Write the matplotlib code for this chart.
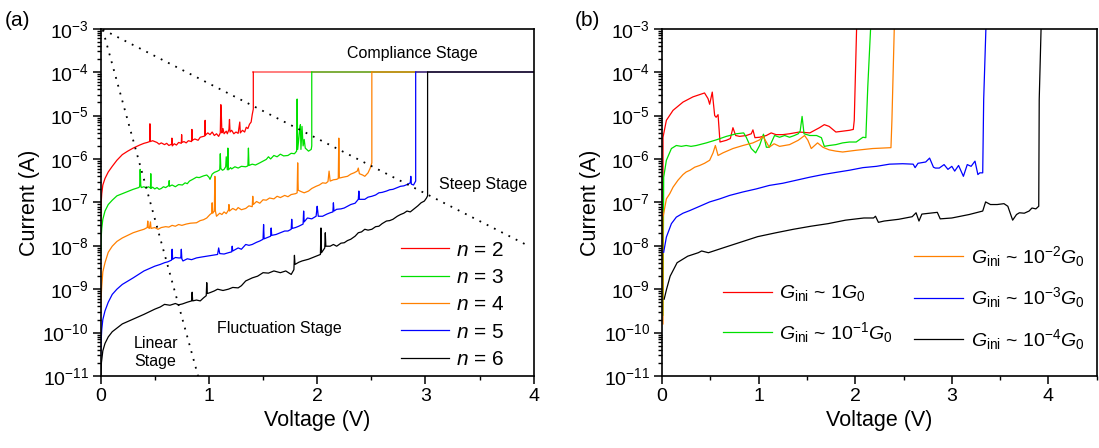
import numpy as np
import matplotlib
matplotlib.use('Agg')
import matplotlib.pyplot as plt
from matplotlib.ticker import LogLocator, NullFormatter, MultipleLocator
from matplotlib.lines import Line2D

plt.rcParams['font.family'] = ['Liberation Sans', 'DejaVu Sans']
plt.rcParams['mathtext.fontset'] = 'custom'
plt.rcParams['mathtext.rm'] = 'Liberation Sans'
plt.rcParams['mathtext.it'] = 'Liberation Sans:italic'
plt.rcParams['mathtext.bf'] = 'Liberation Sans:bold'

# ---- panel (a): I-V sweeps, current given as log10(I / A) ----
v_n2 = [0.0, 0.005, 0.01, 0.02, 0.04, 0.07, 0.107, 0.15, 0.2, 0.25, 0.3, 0.36, 0.40, 0.43,
        0.452, 0.455, 0.458, 0.48, 0.50, 0.52, 0.54, 0.56, 0.59, 0.61, 0.63, 0.655, 0.658,
        0.661, 0.68, 0.70, 0.72, 0.745, 0.748, 0.751, 0.77, 0.79, 0.81, 0.84, 0.843, 0.846,
        0.87, 0.90, 0.92, 0.95, 0.962, 0.965, 0.968, 0.99, 1.01, 1.03, 1.05, 1.07, 1.09,
        1.105, 1.11, 1.115, 1.12, 1.13, 1.14, 1.16, 1.17, 1.185, 1.19, 1.195, 1.21, 1.23,
        1.25, 1.27, 1.285, 1.29, 1.31, 1.33, 1.345, 1.36, 1.375, 1.39, 1.40, 1.41, 1.41, 4.0]
logi_n2 = [-7.6, -7.0, -6.8, -6.6, -6.45, -6.3, -6.17, -6.03, -5.9, -5.82, -5.75, -5.68, -5.64, -5.62,
           -5.60, -5.19, -5.60, -5.58, -5.60, -5.62, -5.66, -5.63, -5.67, -5.64, -5.69, -5.66, -5.52,
           -5.70, -5.65, -5.68, -5.62, -5.64, -5.44, -5.62, -5.60, -5.63, -5.58, -5.60, -5.32, -5.57,
           -5.54, -5.57, -5.50, -5.48, -5.47, -5.11, -5.45, -5.40, -5.44, -5.38, -5.46, -5.42, -5.48,
           -5.40, -4.75, -5.0, -5.40, -5.30, -5.42, -5.36, -5.42, -5.32, -5.09, -5.38, -5.34, -5.42,
           -5.38, -5.41, -5.15, -5.40, -5.34, -5.38, -5.27, -5.30, -5.20, -5.15, -4.98, -4.85, -4.0, -4.0]

v_n3 = [0.0, 0.005, 0.01, 0.02, 0.04, 0.07, 0.107, 0.15, 0.2, 0.25, 0.3, 0.35, 0.36, 0.365,
        0.37, 0.375, 0.40, 0.42, 0.44, 0.46, 0.463, 0.466, 0.48, 0.5, 0.52, 0.54, 0.56, 0.58,
        0.6, 0.63, 0.633, 0.636, 0.66, 0.69, 0.72, 0.755, 0.78, 0.80, 0.82, 0.85, 0.885, 0.91,
        0.95, 0.98, 1.0, 1.01, 1.03, 1.05, 1.08, 1.1, 1.105, 1.11, 1.125, 1.14, 1.155, 1.16,
        1.17, 1.175, 1.18, 1.2, 1.21, 1.24, 1.27, 1.3, 1.34, 1.36, 1.365, 1.37, 1.40, 1.43,
        1.47, 1.50, 1.53, 1.55, 1.57, 1.60, 1.63, 1.66, 1.69, 1.73, 1.76, 1.79, 1.81, 1.815,
        1.82, 1.84, 1.845, 1.85, 1.86, 1.87, 1.88, 1.89, 1.92, 1.945, 1.95, 1.95, 4.0]
logi_n3 = [-8.3, -7.8, -7.6, -7.39, -7.2, -7.05, -6.95, -6.85, -6.8, -6.75, -6.70, -6.66, -6.64, -6.24,
           -6.6, -6.66, -6.64, -6.67, -6.64, -6.67, -6.34, -6.68, -6.65, -6.69, -6.66, -6.70, -6.68, -6.64,
           -6.66, -6.61, -6.50, -6.63, -6.60, -6.64, -6.59, -6.60, -6.55, -6.57, -6.51, -6.47, -6.42, -6.43,
           -6.39, -6.37, -6.42, -6.47, -6.35, -6.31, -6.28, -6.25, -5.88, -6.22, -6.26, -6.24, -6.18, -5.95,
           -6.25, -5.75, -6.25, -6.20, -6.23, -6.18, -6.21, -6.17, -6.18, -6.16, -5.75, -6.15, -6.12, -6.14,
           -6.09, -6.05, -6.01, -5.95, -6.0, -5.92, -5.95, -5.89, -5.93, -5.92, -5.87, -5.88, -5.82, -4.62,
           -5.78, -5.3, -5.21, -5.78, -5.25, -5.70, -5.55, -5.75, -5.82, -5.78, -5.70, -4.0, -4.0]

v_n4 = [0.0, 0.004, 0.01, 0.02, 0.04, 0.07, 0.107, 0.15, 0.2, 0.3, 0.36, 0.4, 0.43, 0.435,
        0.44, 0.45, 0.46, 0.465, 0.5, 0.53, 0.56, 0.6, 0.63, 0.66, 0.69, 0.72, 0.75, 0.79,
        0.83, 0.885, 0.92, 0.95, 0.98, 1.01, 1.025, 1.03, 1.035, 1.05, 1.055, 1.06, 1.07, 1.10,
        1.12, 1.14, 1.16, 1.18, 1.185, 1.19, 1.22, 1.25, 1.27, 1.30, 1.34, 1.37, 1.4, 1.405,
        1.41, 1.44, 1.47, 1.50, 1.53, 1.56, 1.6, 1.63, 1.66, 1.70, 1.73, 1.76, 1.8, 1.815,
        1.82, 1.825, 1.85, 1.88, 1.92, 1.95, 1.99, 2.02, 2.05, 2.08, 2.1, 2.11, 2.12, 2.15,
        2.18, 2.195, 2.2, 2.205, 2.24, 2.28, 2.31, 2.34, 2.37, 2.38, 2.39, 2.42, 2.44, 2.47,
        2.49, 2.505, 2.505, 4.0]
logi_n4 = [-9.6, -9.2, -8.93, -8.6, -8.39, -8.15, -8.01, -7.9, -7.82, -7.70, -7.65, -7.62, -7.58, -7.43,
           -7.58, -7.60, -7.45, -7.60, -7.58, -7.62, -7.58, -7.56, -7.57, -7.53, -7.55, -7.51, -7.53, -7.50,
           -7.48, -7.47, -7.42, -7.40, -7.36, -7.28, -7.25, -7.01, -7.25, -7.20, -6.40, -7.2, -7.32, -7.25,
           -7.28, -7.22, -7.26, -7.18, -7.05, -7.20, -7.14, -7.18, -7.12, -7.17, -7.14, -7.08, -7.10, -6.86,
           -7.05, -6.98, -7.02, -6.94, -6.95, -6.90, -6.92, -6.86, -6.89, -6.84, -6.87, -6.82, -6.80, -6.78,
           -6.09, -6.72, -6.75, -6.78, -6.74, -6.68, -6.63, -6.60, -6.55, -6.56, -6.52, -6.28, -6.51, -6.48,
           -6.47, -6.45, -5.52, -6.44, -6.42, -6.40, -6.35, -6.32, -6.28, -6.21, -6.34, -6.37, -6.40, -6.32,
           -6.21, -6.09, -4.0, -4.0]

v_n5 = [0.0, 0.004, 0.01, 0.02, 0.04, 0.07, 0.107, 0.15, 0.2, 0.3, 0.4, 0.5, 0.55, 0.59,
        0.62, 0.655, 0.66, 0.665, 0.69, 0.72, 0.74, 0.745, 0.75, 0.76, 0.80, 0.84, 0.885, 0.93,
        0.98, 1.03, 1.08, 1.09, 1.1, 1.14, 1.18, 1.21, 1.215, 1.22, 1.27, 1.30, 1.34, 1.37,
        1.4, 1.44, 1.47, 1.5, 1.505, 1.51, 1.53, 1.57, 1.575, 1.58, 1.62, 1.66, 1.70, 1.73,
        1.76, 1.765, 1.77, 1.80, 1.83, 1.87, 1.875, 1.88, 1.91, 1.95, 1.99, 2.0, 2.005, 2.01,
        2.05, 2.09, 2.12, 2.145, 2.15, 2.155, 2.18, 2.22, 2.25, 2.28, 2.31, 2.35, 2.38, 2.385,
        2.39, 2.44, 2.47, 2.505, 2.54, 2.57, 2.60, 2.64, 2.67, 2.7, 2.74, 2.77, 2.80, 2.83,
        2.86, 2.865, 2.87, 2.89, 2.91, 2.91, 4.0]
logi_n5 = [-10.6, -10.2, -9.93, -9.7, -9.50, -9.3, -9.12, -9.0, -8.89, -8.74, -8.58, -8.47, -8.43, -8.39,
           -8.37, -8.33, -8.08, -8.31, -8.27, -8.28, -8.28, -8.08, -8.30, -8.35, -8.30, -8.32, -8.28, -8.26,
           -8.24, -8.22, -8.20, -8.05, -8.18, -8.19, -8.16, -8.14, -8.01, -8.12, -8.05, -8.08, -7.97, -7.99,
           -7.97, -7.92, -7.89, -7.85, -7.51, -7.84, -7.82, -7.78, -7.59, -7.76, -7.74, -7.70, -7.66, -7.66,
           -7.62, -7.39, -7.60, -7.58, -7.55, -7.50, -7.20, -7.45, -7.36, -7.38, -7.32, -7.09, -7.20, -7.32,
           -7.32, -7.27, -7.24, -7.22, -7.01, -7.20, -7.16, -7.15, -7.13, -7.09, -7.05, -7.02, -6.93, -6.74,
           -6.93, -6.93, -6.88, -6.86, -6.83, -6.78, -6.77, -6.74, -6.71, -6.70, -6.66, -6.63, -6.62, -6.59,
           -6.55, -6.40, -6.58, -6.60, -6.51, -4.0, -4.0]

v_n6 = [0.003, 0.007, 0.02, 0.04, 0.07, 0.107, 0.2, 0.3, 0.4, 0.5, 0.55, 0.59, 0.64, 0.69,
        0.72, 0.755, 0.8, 0.84, 0.845, 0.85, 0.885, 0.92, 0.95, 0.975, 0.98, 0.985, 1.01, 1.05,
        1.08, 1.13, 1.18, 1.22, 1.27, 1.30, 1.34, 1.4, 1.45, 1.5, 1.55, 1.6, 1.66, 1.71,
        1.76, 1.785, 1.79, 1.795, 1.83, 1.86, 1.92, 1.99, 2.03, 2.035, 2.04, 2.07, 2.075, 2.08,
        2.12, 2.15, 2.18, 2.22, 2.25, 2.28, 2.31, 2.35, 2.38, 2.41, 2.44, 2.47, 2.505, 2.54,
        2.57, 2.60, 2.64, 2.67, 2.7, 2.74, 2.77, 2.80, 2.83, 2.86, 2.89, 2.93, 2.96, 2.99,
        3.01, 3.02, 3.02, 4.0]
logi_n6 = [-11.0, -10.69, -10.42, -10.25, -10.1, -9.98, -9.80, -9.69, -9.58, -9.46, -9.41, -9.35, -9.37, -9.33,
           -9.36, -9.34, -9.30, -9.27, -9.07, -9.27, -9.25, -9.27, -9.20, -9.15, -8.85, -9.1, -9.08, -9.04,
           -9.0, -9.03, -9.0, -8.96, -8.97, -8.92, -8.81, -8.74, -8.70, -8.62, -8.63, -8.58, -8.62, -8.58,
           -8.66, -8.55, -8.22, -8.43, -8.38, -8.35, -8.31, -8.24, -8.2, -7.59, -8.16, -8.05, -7.70, -8.01,
           -8.01, -7.97, -8.01, -7.94, -7.93, -7.88, -7.85, -7.78, -7.70, -7.68, -7.62, -7.64, -7.62, -7.56,
           -7.55, -7.49, -7.43, -7.42, -7.39, -7.32, -7.28, -7.25, -7.20, -7.22, -7.16, -7.08, -7.01, -6.97,
           -6.90, -6.85, -4.0, -4.0]

labels_a = ['$n$ = 2', '$n$ = 3', '$n$ = 4', '$n$ = 5', '$n$ = 6']
colors = ['#ff0000', '#00e000', '#ff8000', '#0000ff', '#000000']

# ---- panel (b): sweeps for different initial conductance ----
v_g0 = [0.01, 0.01, 0.045, 0.114, 0.217, 0.32, 0.44, 0.476, 0.493, 0.52, 0.545, 0.56, 0.58,
        0.60, 0.666, 0.707, 0.734, 0.762, 0.803, 0.872, 0.924, 0.941, 0.962, 1.01, 1.08,
        1.13, 1.18, 1.25, 1.32, 1.42, 1.53, 1.63, 1.68, 1.73, 1.80, 1.87, 1.94, 1.98, 1.99, 2.02]
logi_g0 = [-9.0, -5.5, -5.11, -4.88, -4.69, -4.57, -4.48, -4.61, -4.74, -4.46, -5.0, -5.04, -4.98,
           -5.61, -5.57, -5.53, -5.28, -5.46, -5.48, -5.46, -5.42, -5.33, -5.51, -5.50, -5.46,
           -5.40, -5.44, -5.44, -5.42, -5.38, -5.40, -5.28, -5.21, -5.25, -5.38, -5.36, -5.34, -5.32, -5.11, -2.5]

v_g1 = [0.01, 0.017, 0.045, 0.097, 0.148, 0.2, 0.25, 0.3, 0.355, 0.459, 0.562, 0.666, 0.769,
        0.845, 0.872, 0.924, 0.969, 1.01, 1.05, 1.08, 1.11, 1.165, 1.217, 1.27, 1.32, 1.37,
        1.41, 1.43, 1.45, 1.47, 1.53, 1.60, 1.65, 1.68, 1.73, 1.80, 1.87, 1.94, 2.01, 2.08,
        2.11, 2.13, 2.17]
logi_g1 = [-9.6, -6.42, -6.03, -5.76, -5.69, -5.71, -5.69, -5.71, -5.69, -5.63, -5.56, -5.48, -5.42,
           -5.40, -5.50, -5.76, -5.86, -5.69, -5.43, -5.73, -5.73, -5.46, -5.50, -5.46, -5.50, -5.46,
           -5.42, -5.36, -5.02, -5.42, -5.46, -5.46, -5.51, -5.71, -5.69, -5.67, -5.63, -5.61, -5.61, -5.50,
           -5.51, -4.34, -2.5]

v_g2 = [0.01, 0.01, 0.045, 0.08, 0.114, 0.165, 0.217, 0.25, 0.29, 0.338, 0.39, 0.44, 0.493,
        0.528, 0.552, 0.58, 0.63, 0.734, 0.838, 0.941, 1.01, 1.045, 1.08, 1.11, 1.16, 1.217,
        1.32, 1.41, 1.476, 1.51, 1.545, 1.58, 1.61, 1.665, 1.73, 1.80, 1.87, 1.94, 2.01, 2.18,
        2.37, 2.38, 2.41]
logi_g2 = [-9.8, -7.34, -6.92, -6.80, -6.65, -6.49, -6.36, -6.30, -6.26, -6.19, -6.15, -6.10, -6.03,
           -5.86, -5.69, -5.92, -5.86, -5.76, -5.69, -5.63, -5.56, -5.48, -5.61, -5.73, -5.65, -5.71,
           -5.67, -5.57, -5.46, -5.57, -5.76, -5.69, -5.63, -5.73, -5.79, -5.82, -5.84, -5.82, -5.80, -5.76,
           -5.74, -5.11, -2.5]

v_g3 = [0.017, 0.045, 0.097, 0.148, 0.217, 0.286, 0.39, 0.493, 0.597, 0.70, 0.838, 0.976, 1.11,
        1.25, 1.39, 1.53, 1.665, 1.80, 1.94, 2.08, 2.22, 2.355, 2.49, 2.60, 2.62, 2.65, 2.73,
        2.77, 2.81, 2.83, 2.87, 2.92, 2.96, 3.0, 3.03, 3.07, 3.12, 3.16, 3.2, 3.24, 3.27, 3.29,
        3.32, 3.33, 3.36]
logi_g3 = [-8.15, -7.80, -7.49, -7.34, -7.25, -7.19, -7.09, -6.99, -6.92, -6.84, -6.76, -6.69, -6.61,
           -6.56, -6.49, -6.42, -6.36, -6.31, -6.26, -6.20, -6.17, -6.12, -6.11, -6.12, -6.20, -6.10, -6.07,
           -5.98, -6.19, -6.21, -6.21, -6.13, -6.24, -6.17, -6.28, -6.15, -6.40, -6.13, -6.17, -6.05, -6.36,
           -6.32, -6.32, -4.63, -2.5]

v_g4 = [0.022, 0.047, 0.084, 0.156, 0.266, 0.375, 0.41, 0.48, 0.63, 0.81, 0.99, 1.18, 1.36,
        1.54, 1.72, 1.90, 2.09, 2.19, 2.21, 2.24, 2.30, 2.45, 2.59, 2.63, 2.66, 2.69, 2.81,
        2.85, 2.88, 3.0, 3.18, 3.32, 3.35, 3.40, 3.47, 3.54, 3.58, 3.63, 3.67, 3.70, 3.75,
        3.80, 3.83, 3.87, 3.90, 3.905, 3.93]
logi_g4 = [-9.23, -9.0, -8.70, -8.39, -8.24, -8.16, -8.12, -8.16, -8.05, -7.92, -7.79, -7.70, -7.62,
           -7.55, -7.49, -7.41, -7.36, -7.36, -7.32, -7.46, -7.43, -7.39, -7.33, -7.24, -7.43, -7.27, -7.24,
           -7.23, -7.38, -7.36, -7.28, -7.20, -6.99, -7.05, -7.05, -7.03, -7.09, -7.41, -7.28, -7.24, -7.25,
           -7.20, -7.13, -7.15, -7.09, -4.63, -2.5]

labels_b = [r'$G_\mathrm{ini}$ ~ 1$G_0$', r'$G_\mathrm{ini}$ ~ 10$^{-1}$$G_0$',
            r'$G_\mathrm{ini}$ ~ 10$^{-2}$$G_0$', r'$G_\mathrm{ini}$ ~ 10$^{-3}$$G_0$',
            r'$G_\mathrm{ini}$ ~ 10$^{-4}$$G_0$']

# guide lines for the stages in (a): (V, log10 I) end points
linear_guide = ([0.02, 0.90], [-3.03, -11.0])
steep_guide = ([0.02, 3.95], [-3.02, -8.0])


def style_axis(ax, xmax):
    ax.set_yscale('log')
    ax.set_xlim(0, xmax)
    ax.set_ylim(1e-11, 1e-3)
    ax.yaxis.set_major_locator(LogLocator(base=10, numticks=20))
    ax.yaxis.set_minor_locator(LogLocator(base=10, subs=np.arange(2, 10), numticks=20))
    ax.yaxis.set_minor_formatter(NullFormatter())
    ax.xaxis.set_major_locator(MultipleLocator(1))
    ax.xaxis.set_minor_locator(MultipleLocator(0.5))
    ax.tick_params(which='major', direction='out', length=5.5, width=1.1, labelsize=14, pad=3)
    ax.tick_params(which='minor', direction='out', length=3, width=1.0)
    for s in ax.spines.values():
        s.set_linewidth(1.2)
    ax.set_xlabel('Voltage (V)', fontsize=15.5, labelpad=4)
    ax.set_ylabel('Current (A)', fontsize=15.5, labelpad=2)


fig = plt.figure(figsize=(10.99, 4.48), dpi=100)
ax_a = fig.add_axes([0.0916, 0.1607, 0.394, 0.7752])
ax_b = fig.add_axes([0.6024, 0.1607, 0.3955, 0.7752])

# (a) - sweep body, then the shared compliance plateau drawn semi-transparent
curves_a = [(v_n2, logi_n2), (v_n3, logi_n3), (v_n4, logi_n4), (v_n5, logi_n5), (v_n6, logi_n6)]
for (v, lg), c, lab in zip(curves_a, colors, labels_a):
    cur = 10 ** np.array(lg)
    ax_a.plot(v[:-1], cur[:-1], color=c, lw=0.9, label=lab)
    ax_a.plot(v[-2:], cur[-2:], color=c, lw=1.3, alpha=0.55)

for gv, gl in [linear_guide, steep_guide]:
    ax_a.plot(gv, 10 ** np.array(gl), color='black', lw=1.3, linestyle=(0, (1, 3.5)))

style_axis(ax_a, 4)
ax_a.text(2.88, 10 ** -3.58, 'Compliance Stage', fontsize=11.5, ha='center', va='center')
ax_a.text(3.53, 10 ** -6.6, 'Steep Stage', fontsize=11.5, ha='center', va='center')
ax_a.text(1.65, 10 ** -9.9, 'Fluctuation Stage', fontsize=11.5, ha='center', va='center')
ax_a.text(0.31, 10 ** -10.45, 'Linear\nStage', fontsize=11.5, ha='left', va='center',
          linespacing=1.25)

ax_a.legend(loc='lower left', bbox_to_anchor=(0.694, 0.02), frameon=False, fontsize=15,
            handlelength=2.3, handletextpad=0.35, labelspacing=0.40, borderpad=0,
            borderaxespad=0)

# (b)
curves_b = [(v_g0, logi_g0), (v_g1, logi_g1), (v_g2, logi_g2), (v_g3, logi_g3), (v_g4, logi_g4)]
handles_b = []
for (v, lg), c, lab in zip(curves_b, colors, labels_b):
    ln, = ax_b.plot(v, 10 ** np.array(lg), color=c, lw=0.9, label=lab)
    handles_b.append(ln)

style_axis(ax_b, 4.5)
blank = Line2D([], [], color='none')
ax_b.legend([blank, handles_b[0], handles_b[1], handles_b[2], handles_b[3], handles_b[4]],
            [' ', labels_b[0], labels_b[1], labels_b[2], labels_b[3], labels_b[4]],
            ncol=2, loc='lower left', bbox_to_anchor=(0.14, 0.07), frameon=False, fontsize=14,
            handlelength=2.5, handletextpad=0.4, labelspacing=0.85, columnspacing=1.1,
            borderpad=0, borderaxespad=0)

fig.text(0.004, 0.975, '(a)', fontsize=15, ha='left', va='top')
fig.text(0.523, 0.975, '(b)', fontsize=15, ha='left', va='top')

fig.savefig('out.png', dpi=100)
